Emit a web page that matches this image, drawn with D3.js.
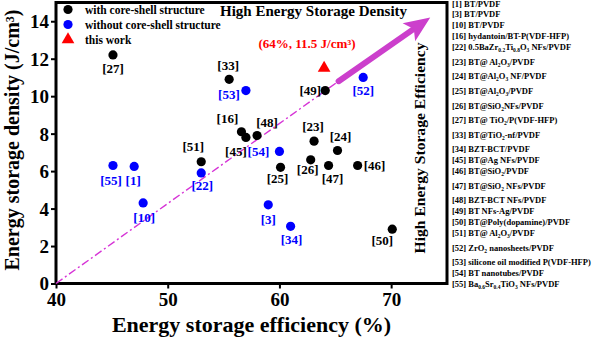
<!DOCTYPE html>
<html>
<head>
<meta charset="utf-8">
<script src="https://cdn.jsdelivr.net/npm/d3@7"></script>
<style>
  html, body { margin: 0; padding: 0; background: #fff; }
  svg { display: block; }
  text { font-family: 'Liberation Serif', 'Times New Roman', serif; font-weight: bold; }
</style>
</head>
<body>
<div id="chart"></div>
<script>
// with core-shell structure (black)
const coreShellRefs = [27, 33, 16, 45, 48, 51, 49, 23, 24, 25, 26, 47, 46, 50];
const coreShellEff = [45.1, 55.5, 56.6, 57.0, 58.0, 53.0, 64.1, 63.1, 65.2, 60.1, 62.8, 64.4, 67.0, 70.1];
const coreShellDen = [12.2, 10.9, 8.1, 7.8, 7.9, 6.5, 10.3, 7.6, 7.1, 6.2, 6.6, 6.3, 6.3, 2.9];

// without core-shell structure (blue)
const plainRefs = [53, 54, 55, 1, 10, 22, 52, 3, 34];
const plainEff = [57.0, 60.0, 45.1, 47.0, 47.8, 53.0, 67.5, 59.0, 61.0];
const plainDen = [10.3, 7.05, 6.3, 6.25, 4.3, 5.9, 11.0, 4.2, 3.05];

// this work
const thisWork = [64, 11.5];

// guide line: start, end of dash-dot, arrow tip (efficiency, density)
const guideStart = [40, 0];
const guideBreak = [65.3, 10.8];
const guideTip = [73.5, 14.2];

const xTicks = [40, 50, 60, 70];
const yTicks = [0, 2, 4, 6, 8, 10, 12, 14];

const legendLabels = ['with core-shell structure', 'without core-shell structure', 'this work'];

// reference list, {..} = subscript
const refList = [
  '[1] BT/PVDF',
  '[3] BT/PVDF',
  '[10] BT/PVDF',
  '[16] hydantoin/BT-P(VDF-HFP)',
  '[22] 0.5BaZr{0.2}Ti{0.8}O{3} NFs/PVDF',
  '[23] BT@ Al{2}O{3}/PVDF',
  '[24] BT@Al{2}O{3} NF/PVDF',
  '[25] BT@Al{2}O{3}/PVDF',
  '[26] BT@SiO{2}NFs/PVDF',
  '[27] BT@ TiO{2}/P(VDF-HFP)',
  '[33] BT@TiO{2}-nf/PVDF',
  '[34] BZT-BCT/PVDF',
  '[45] BT@Ag NFs/PVDF',
  '[46] BT@SiO{2}/PVDF',
  '[47] BT@SiO{2} NFs/PVDF',
  '[48] BZT-BCT NFs/PVDF',
  '[49] BT NFs-Ag/PVDF',
  '[50] BT@Poly(dopamine)/PVDF',
  '[51] BT@ Al{2}O{3}/PVDF',
  '[52] ZrO{2} nanosheets/PVDF',
  '[53] silicone oil modified P(VDF-HFP)',
  '[54] BT nanotubes/PVDF',
  '[55] Ba{0.6}Sr{0.4}TiO{3} NFs/PVDF',
];

// label offsets (px) from each point
const labelOffset = {
  27: [0, 13], 33: [-1, -14], 53: [-17, 4], 16: [-14, -13], 45: [-10, 14],
  48: [10, -13], 54: [-21, 0], 51: [-8, -15], 55: [-2, 15], 1: [-1, 14],
  10: [1, 15], 22: [1, 12], 52: [0, 13], 49: [-15, 0], 23: [-1, -15],
  24: [3, -14], 25: [-3, 11], 26: [-3, 10], 47: [4, 13], 46: [17, 0],
  3: [0, 15], 34: [1, 13], 50: [-10, 11],
};

function visualize() {
  const canvasWidth = 600;
  const canvasHeight = 339;
  const plot = { left: 56, right: 447, top: 2.5, bottom: 283.5 };
  const blue = '#0000ff';
  const red = '#ff0000';
  const magenta = '#cc3fcc';

  const svg = d3.select('#chart').append('svg')
    .attr('width', canvasWidth)
    .attr('height', canvasHeight);

  const x = d3.scaleLinear().domain([40, 75]).range([plot.left, plot.right]);
  const y = d3.scaleLinear().domain([0, 15]).range([plot.bottom, plot.top]);

  // axes: major + minor ticks
  const xAxis = svg.append('g').attr('transform', `translate(0,${plot.bottom})`);
  xAxis.call(d3.axisBottom(x).tickValues(d3.range(45, 75, 10)).tickSize(4).tickSizeOuter(0).tickFormat(''));
  xAxis.call(d3.axisBottom(x).tickValues(xTicks).tickSize(5).tickSizeOuter(0).tickFormat(d3.format('d')));
  const yAxis = svg.append('g').attr('transform', `translate(${plot.left},0)`);
  yAxis.call(d3.axisLeft(y).tickValues(d3.range(1, 15, 2)).tickSize(3).tickSizeOuter(0).tickFormat(''));
  yAxis.call(d3.axisLeft(y).tickValues(yTicks).tickSize(5).tickSizeOuter(0).tickFormat(d3.format('d')));

  svg.selectAll('.domain').remove();
  svg.selectAll('.tick line').attr('stroke', '#000').attr('stroke-width', 2);
  xAxis.selectAll('.tick text')
    .attr('font-size', 19).attr('fill', '#000').attr('y', 9).attr('dy', '0.71em');
  yAxis.selectAll('.tick text')
    .attr('font-size', 19).attr('fill', '#000').attr('x', -7).attr('dy', '0.34em');

  svg.append('rect')
    .attr('x', plot.left)
    .attr('y', plot.top)
    .attr('width', plot.right - plot.left)
    .attr('height', plot.bottom - plot.top)
    .attr('fill', 'none')
    .attr('stroke', '#000')
    .attr('stroke-width', 3);

  // axis titles
  svg.append('text')
    .attr('x', (plot.left + plot.right) / 2)
    .attr('y', 332)
    .attr('text-anchor', 'middle')
    .attr('font-size', 22)
    .text('Energy storage efficiency (%)');
  svg.append('text')
    .attr('transform', `translate(19,${(plot.top + plot.bottom) / 2 - 3}) rotate(-90)`)
    .attr('text-anchor', 'middle')
    .attr('font-size', 20)
    .text('Energy storage density (J/cm³)');

  // guide line + arrow
  svg.append('line')
    .attr('x1', x(guideStart[0])).attr('y1', y(guideStart[1]))
    .attr('x2', x(guideBreak[0])).attr('y2', y(guideBreak[1]))
    .attr('stroke', '#d633d6')
    .attr('stroke-width', 1.4)
    .attr('stroke-dasharray', '8,3,2,3');

  const bx = x(guideBreak[0]);
  const by = y(guideBreak[1]);
  const tx = x(guideTip[0]);
  const ty = y(guideTip[1]);
  const len = Math.hypot(tx - bx, ty - by);
  const ux = (tx - bx) / len;
  const uy = (ty - by) / len;
  const headLen = 26;
  const headW = 11;
  const notch = 6;
  svg.append('line')
    .attr('x1', bx).attr('y1', by)
    .attr('x2', tx - (headLen - notch) * ux).attr('y2', ty - (headLen - notch) * uy)
    .attr('stroke', magenta)
    .attr('stroke-width', 6)
    .attr('stroke-linecap', 'round');
  const head = [
    [tx, ty],
    [tx - headLen * ux - headW * uy, ty - headLen * uy + headW * ux],
    [tx - (headLen - notch) * ux, ty - (headLen - notch) * uy],
    [tx - headLen * ux + headW * uy, ty - headLen * uy - headW * ux],
  ];
  svg.append('path')
    .attr('d', d3.line()(head) + 'Z')
    .attr('fill', magenta);

  // text annotations in plot
  svg.append('text')
    .attr('x', 220)
    .attr('y', 16)
    .attr('font-size', 15)
    .text('High Energy Storage Density');
  svg.append('text')
    .attr('transform', 'translate(425,148) rotate(-90)')
    .attr('text-anchor', 'middle')
    .attr('font-size', 15.6)
    .text('High Energy Storage Efficiency');
  svg.append('text')
    .attr('x', 307)
    .attr('y', 48)
    .attr('text-anchor', 'middle')
    .attr('font-size', 13)
    .attr('fill', red)
    .text('(64%, 11.5 J/cm³)');

  // points
  const toPoints = (refs, effs, dens, color) => refs.map((ref, i) => ({
    ref, eff: effs[i], den: dens[i], color,
  }));
  const points = toPoints(coreShellRefs, coreShellEff, coreShellDen, '#000')
    .concat(toPoints(plainRefs, plainEff, plainDen, blue));

  svg.append('g').selectAll('circle')
    .data(points)
    .enter()
    .append('circle')
      .attr('cx', d => x(d.eff))
      .attr('cy', d => y(d.den))
      .attr('r', 4.6)
      .attr('fill', d => d.color);

  svg.append('g').selectAll('text')
    .data(points)
    .enter()
    .append('text')
      .attr('x', d => x(d.eff) + labelOffset[d.ref][0])
      .attr('y', d => y(d.den) + labelOffset[d.ref][1])
      .attr('dy', '0.35em')
      .attr('text-anchor', 'middle')
      .attr('font-size', 13)
      .attr('fill', d => d.color)
      .text(d => `[${d.ref}]`);

  svg.append('path')
    .attr('transform', `translate(${x(thisWork[0])},${y(thisWork[1])})`)
    .attr('d', d3.symbol(d3.symbolTriangle, 70)())
    .attr('fill', red);

  // legend
  const legend = svg.append('g').attr('transform', 'translate(68,9.5)');
  const legendRow = 15;
  legend.append('circle').attr('cx', 0).attr('cy', 0).attr('r', 4.6).attr('fill', '#000');
  legend.append('circle').attr('cx', 0).attr('cy', legendRow).attr('r', 4.6).attr('fill', blue);
  legend.append('path')
    .attr('transform', `translate(0,${legendRow * 2})`)
    .attr('d', d3.symbol(d3.symbolTriangle, 70)())
    .attr('fill', red);
  legend.selectAll('.legend-label')
    .data(legendLabels)
    .enter()
    .append('text')
      .attr('class', 'legend-label')
      .attr('x', 17)
      .attr('y', (d, i) => i * legendRow)
      .attr('dy', '0.35em')
      .attr('font-size', 11.5)
      .text(d => d);

  // reference list on the right
  const hasSub = s => s.indexOf('{') >= 0;
  const offsets = [0];
  refList.slice(0, -1).forEach((s, i) => {
    offsets.push(offsets[i] + (hasSub(s) ? 1.35 : 1));
  });
  const listY = d3.scaleLinear()
    .domain([0, offsets[offsets.length - 1]])
    .range([6.5, 287]);

  const list = svg.append('g').attr('class', 'refs');
  refList.forEach((s, i) => {
    const t = list.append('text')
      .attr('x', 452)
      .attr('y', listY(offsets[i]))
      .attr('dy', '0.35em')
      .attr('font-size', 8.5);
    let lowered = false;
    s.split(/(\{[^}]*\})/).filter(p => p.length).forEach((part) => {
      if (part[0] === '{') {
        t.append('tspan')
          .attr('font-size', 5.5)
          .attr('dy', lowered ? 0 : 2)
          .text(part.slice(1, -1));
        lowered = true;
      } else {
        t.append('tspan')
          .attr('dy', lowered ? -2 : 0)
          .text(part);
        lowered = false;
      }
    });
  });
}

visualize();
</script>
</body>
</html>
